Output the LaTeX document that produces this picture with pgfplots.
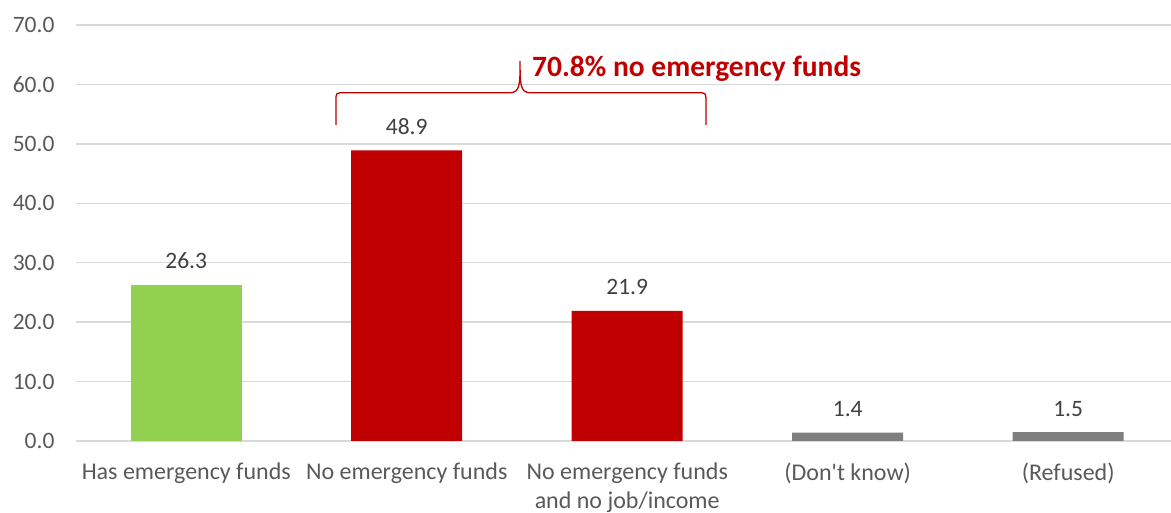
\documentclass[border=0pt]{standalone}
\usepackage{fontspec}
\setmainfont{Carlito}[Ligatures=TeXOff]
\usepackage{pgfplots}
\pgfplotsset{compat=1.18}
\definecolor{bargreen}{HTML}{92D050}
\definecolor{barred}{HTML}{C00000}
\definecolor{bargrey}{HTML}{7F7F7F}
\definecolor{gridgrey}{HTML}{D9D9D9}
\definecolor{ticktext}{HTML}{595959}
\definecolor{labeltext}{HTML}{404040}
\begin{document}
\begin{tikzpicture}
\begin{axis}[
  at={(0,0)}, anchor=south west,
  width=1102.5pt, height=416pt, scale only axis,
  xmin=-0.5, xmax=4.5, ymin=0, ymax=70,
  ytick={0,10,...,70},
  xtick={0,1,2,3,4},
  xticklabels={Has emergency funds, No emergency funds, {No emergency funds\\and no job/income}, (Don't know), (Refused)},
  axis line style={draw=none},
  major tick length=0pt,
  ymajorgrids,
  grid style={color=gridgrey, line width=1.4pt},
  ybar, bar width=111pt,
  /pgf/number format/assume math mode=true,
  yticklabel={\pgfmathprintnumber[fixed, fixed zerofill, precision=1]{\tick}},
  yticklabel style={font=\fontsize{23.5}{29}\selectfont, text=ticktext, xshift=-18pt},
  xticklabel style={font=\fontsize{24}{29.5}\selectfont, text=ticktext, align=center, yshift=-18pt},
  nodes near coords,
  nodes near coords style={font=\fontsize{23.5}{29}\selectfont, text=labeltext, anchor=base, inner sep=0pt, yshift=16pt,
    /pgf/number format/fixed, /pgf/number format/fixed zerofill, /pgf/number format/precision=1, /pgf/number format/assume math mode=true},
  clip=false,
]
\addplot[fill=bargreen, draw=none, bar shift=0pt] coordinates {(0,26.3)};
\addplot[fill=barred, draw=none, bar shift=0pt] coordinates {(1,48.9) (2,21.9)};
\addplot[fill=bargrey, draw=none, bar shift=0pt] coordinates {(3,1.4) (4,1.5)};
\draw[barred, line width=1.3pt]
  (axis cs:0.679,53.2) -- (axis cs:0.679,57.2)
  .. controls (axis cs:0.679,58.6) .. (axis cs:0.717,58.6)
  -- (axis cs:1.467,58.6)
  .. controls (axis cs:1.514,58.6) and (axis cs:1.514,60.0) .. (axis cs:1.514,63.9)
  .. controls (axis cs:1.514,60.0) and (axis cs:1.514,58.6) .. (axis cs:1.561,58.6)
  -- (axis cs:2.319,58.6)
  .. controls (axis cs:2.357,58.6) .. (axis cs:2.357,57.2)
  -- (axis cs:2.357,53.2);
\node[anchor=base west, inner sep=0pt, text=barred, font=\fontsize{29.5}{34}\selectfont\bfseries]
  at (axis cs:1.568,61.4) {70.8\% no emergency funds};
\end{axis}
\pgfresetboundingbox
\useasboundingbox (-76pt,-72pt) rectangle (1095pt,441pt);
\end{tikzpicture}
\end{document}
